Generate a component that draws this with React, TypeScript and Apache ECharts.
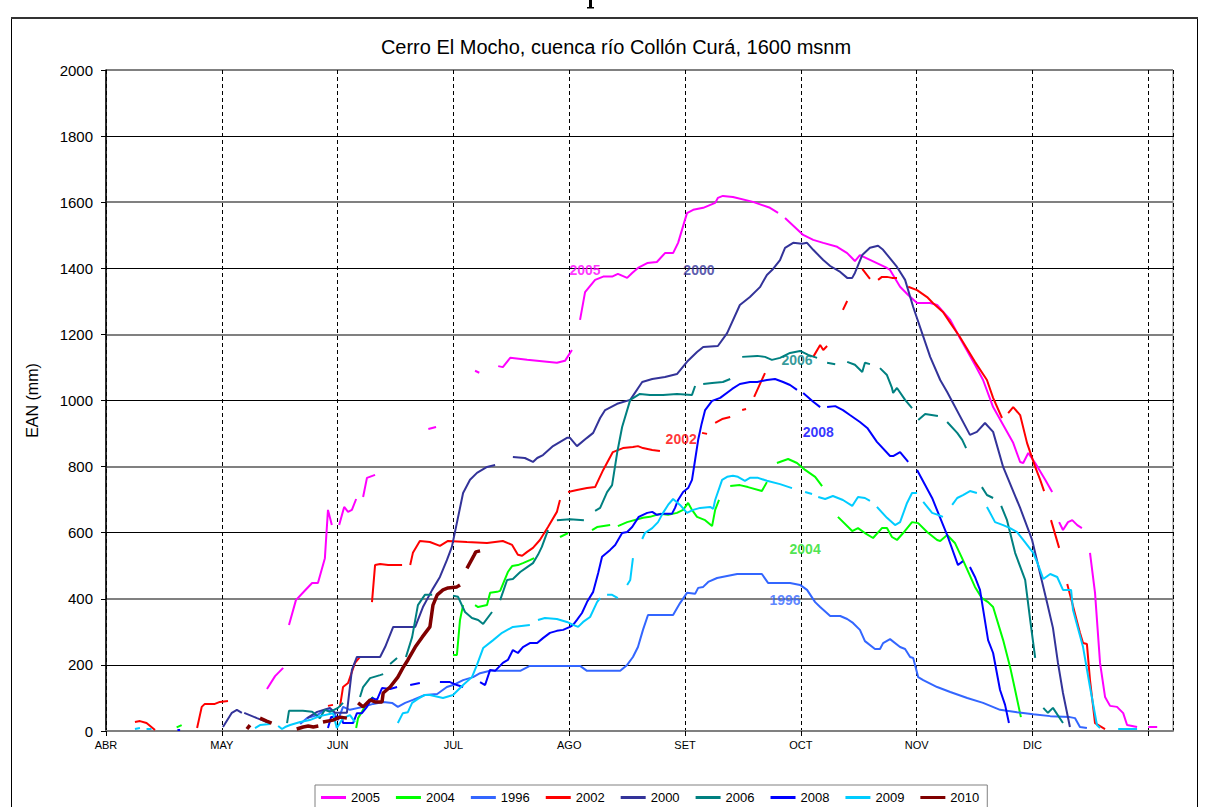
import React, { useEffect, useRef } from "react";
import * as echarts from "echarts";

// x = days since 1 April (30 days per month slot), y = EAN (mm)
const monthLabels = ["ABR", "MAY", "JUN", "JUL", "AGO", "SET", "OCT", "NOV", "DIC", ""];
const yTicks = [0, 200, 400, 600, 800, 1000, 1200, 1400, 1600, 1800, 2000];

type P = [number, number] | null;

const s2005: P[] = [
  [41.7, 127], [43.8, 166], [45.9, 191], null,
  [47.4, 321], [49.2, 396], [51.6, 426], [53.4, 448], [54.9, 448], [56.7, 523], [57.5, 669], [58.5, 623], null,
  [60.4, 623], [61.7, 678], [62.7, 663], [63.7, 669], [64.8, 702], null,
  [66.6, 708], [67.6, 766], [69.7, 775], null,
  [83.5, 914], [85.5, 920], null,
  [95.6, 1090], [96.7, 1084], null,
  [101.6, 1104], [102.8, 1101], [104.7, 1129], [109.1, 1123], [114.2, 1117], [116.8, 1114], [118.9, 1120], [120.7, 1153], null,
  [122.8, 1244], [124.1, 1328], [126.7, 1365], [128.8, 1375], [131.1, 1375], [132.6, 1383], [135.0, 1371], [136.3, 1386],
  [137.8, 1401], [140.2, 1416], [142.7, 1419], [144.8, 1446], [146.9, 1446], [148.2, 1477], [150.5, 1567], [152.1, 1577],
  [154.7, 1583], [157.8, 1598], [158.5, 1613], [159.8, 1619], [162.4, 1616], [167.6, 1601], [172.0, 1583], [174.1, 1568], null,
  [175.9, 1552], [180.6, 1501], [183.2, 1486], [185.8, 1477], [189.4, 1465], [192.0, 1446], [194.0, 1422], [195.3, 1440],
  [202.3, 1401], [203.1, 1395], [205.7, 1344], [207.8, 1319], [210.1, 1295], [213.5, 1295], [215.3, 1289], [218.7, 1244],
  [221.2, 1189], [225.1, 1108], [227.2, 1062], [229.8, 980], [235.0, 872], [236.8, 814], [237.6, 811], [238.9, 841],
  [240.7, 811], [243.3, 760], [245.1, 723], null,
  [246.9, 632], [247.9, 608], [249.2, 632], [250.3, 638], [251.6, 623], [252.8, 614], null,
  [254.9, 539], [256.2, 418], [257.5, 206], [258.8, 103], [260.1, 76], [261.9, 73], [263.5, 54], [264.5, 18], [267.1, 12], null,
  [270.0, 12], [272.3, 12],
];

const s2004: P[] = [
  [18.3, 11], [19.6, 18], null,
  [64.8, 9], [65.3, 39], [66.3, 58], [67.6, 85], [69.2, 103], null,
  [89.9, 230], [90.9, 230], [91.7, 336], [92.5, 381], null,
  [95.6, 381], [96.4, 375], [98.7, 381], [99.5, 418], [101.3, 421], [102.1, 424], [104.1, 481], [105.2, 499],
  [106.7, 502], [108.0, 508], [109.8, 517], [110.9, 523], null,
  [117.6, 587], [119.7, 599], null,
  [125.9, 608], [127.2, 617], [130.6, 623], null,
  [132.6, 620], [135.0, 632], [139.1, 645], [140.9, 648], [143.5, 657], [145.6, 654], [147.9, 660], [149.5, 669],
  [150.8, 690], [151.8, 669], [153.1, 648], [155.2, 638], [157.0, 620], [157.8, 669], [158.8, 699], null,
  [161.7, 741], [164.2, 744], [166.3, 738], [169.9, 726], [171.2, 753], null,
  [173.8, 811], [176.7, 823], [179.0, 811], [181.1, 790], [183.7, 769], [185.5, 741], null,
  [189.6, 648], [193.3, 605], [194.8, 614], [196.6, 599], [198.7, 584], [201.0, 614], [202.3, 614], [203.6, 587],
  [204.9, 578], [206.5, 599], [208.8, 632], [210.4, 629], [212.7, 602], [215.3, 578], [216.1, 575], [217.9, 593],
  [219.9, 569], [222.0, 517], [225.1, 436], [226.9, 402], [228.5, 390], [229.8, 375], [232.4, 275], [234.2, 194],
  [235.5, 124], [237.0, 42],
];

const s1996: P[] = [
  [50.3, 21], [52.1, 39], [54.7, 48], [56.7, 64], [58.8, 61], [60.1, 33], [61.4, 73], [63.2, 64], [66.6, 73],
  [69.2, 82], [71.8, 88], [74.1, 85], [75.6, 73], [77.5, 85], [79.5, 94], [82.6, 109], [85.8, 112], [88.3, 133],
  [89.9, 139], [92.5, 154], [95.1, 163], [96.9, 175], [99.5, 182], [107.3, 182], [109.8, 197], [122.8, 197],
  [124.6, 182], [133.2, 182], [135.0, 200], [136.5, 224], [137.8, 254], [139.1, 306], [140.4, 351], [146.9, 351],
  [148.7, 387], [150.5, 418], [152.6, 415], [153.4, 433], [154.7, 436], [156.0, 451], [158.3, 463], [160.9, 469],
  [163.5, 475], [166.1, 475], [169.9, 475], [171.5, 448], [173.8, 448], [177.2, 448], [179.8, 442], [181.6, 427],
  [183.7, 390], [185.0, 375], [187.6, 348], [190.2, 348], [192.0, 339], [193.5, 327], [195.3, 306], [196.6, 272],
  [199.2, 248], [200.5, 248], [201.3, 266], [203.1, 278], [205.7, 254], [207.0, 248], [208.3, 224], [209.1, 221],
  [210.4, 163], [211.7, 154], [215.3, 133], [218.7, 118], [223.1, 100], [227.2, 85], [231.6, 64], [236.0, 57],
  [240.2, 51], [244.6, 45], [249.7, 42], [251.0, 39], [252.3, 12], [254.1, 9],
];

const s2002: P[] = [
  [7.5, 27], [8.8, 30], [10.5, 24], [12.7, 3], null,
  [23.6, 9], [24.8, 73], [25.6, 82], [28.2, 82], [29.5, 88], [31.6, 91], null,
  [57.5, 76], [58.8, 79], null,
  [60.6, 73], [61.4, 133], [62.7, 145], [64.5, 206], [65.8, 224], null,
  [68.9, 390], [69.7, 502], [71.0, 505], [73.1, 502], [76.7, 502], null,
  [78.8, 502], [79.5, 539], [81.3, 575], [83.9, 572], [86.5, 560], [88.6, 575], [93.5, 572], [98.7, 569],
  [102.8, 575], [105.2, 563], [106.7, 533], [107.8, 530], [109.1, 542], [110.6, 554], [112.4, 578], [114.5, 617],
  [116.8, 663], [117.6, 699], null,
  [119.7, 723], [122.0, 729], [124.6, 735], [126.7, 738], [128.8, 790], [131.3, 844], [133.9, 856], [136.5, 859],
  [137.8, 862], [139.1, 856], [141.5, 850], [143.5, 847], null,
  [154.4, 902], [155.7, 899], null,
  [157.8, 932], [159.6, 944], [161.7, 950], null,
  [164.8, 971], [165.8, 974], null,
  [167.9, 1011], [170.7, 1083], null,
  [183.2, 1132], [185.0, 1168], [185.8, 1153], [186.8, 1165], null,
  [190.9, 1274], [192.0, 1301], null,
  [195.9, 1398], [197.9, 1368], null,
  [200.0, 1365], [201.0, 1374], [202.3, 1374], [203.6, 1371], [204.9, 1371], null,
  [207.8, 1344], [210.1, 1334], [212.7, 1313], [214.2, 1295], [216.8, 1268], [218.7, 1235], [221.2, 1192],
  [225.1, 1117], [228.2, 1062], [229.8, 1008], [232.1, 947], null,
  [233.7, 962], [235.0, 980], [236.8, 956], [238.6, 871], [240.7, 799], [242.0, 760], [243.0, 726], null,
  [244.8, 638], [246.9, 554], null,
  [249.0, 445], [252.3, 297], [253.1, 266], [254.1, 263], [254.9, 154], [256.2, 24], [258.8, 6],
];

const s2000: P[] = [
  [30.3, 12], [32.6, 55], [33.9, 64], [35.2, 55], null,
  [35.8, 55], [39.1, 39], [41.7, 27], null,
  [52.1, 39], [54.7, 58], [58.0, 70], [59.3, 55], [62.4, 55], [63.7, 185], [65.0, 224], [68.9, 224], [71.0, 224],
  [72.3, 254], [74.4, 315], [80.1, 315], [82.1, 375], [84.5, 427], [86.5, 466], [88.3, 517], [89.6, 557],
  [92.5, 720], [94.3, 760], [96.1, 781], [98.7, 799], [100.8, 805], null,
  [105.4, 829], [108.5, 826], [110.6, 814], [111.7, 826], [113.2, 835], [115.8, 862], [119.4, 887], [120.2, 887],
  [122.0, 862], [124.6, 887], [126.2, 902], [128.0, 947], [129.3, 971], [132.4, 990], [135.8, 1002], [138.9, 1056],
  [141.5, 1065], [144.8, 1071], [147.9, 1080], [150.5, 1117], [153.1, 1147], [154.7, 1162], [158.5, 1165],
  [160.9, 1204], [164.2, 1289], [166.8, 1313], [169.4, 1343], [171.2, 1380], [172.8, 1398], [174.6, 1425],
  [175.9, 1462], [178.0, 1477], [180.3, 1474], [181.6, 1477], [183.2, 1456], [185.8, 1425], [187.6, 1407],
  [190.2, 1389], [192.0, 1371], [193.3, 1371], [194.0, 1386], [195.9, 1440], [197.9, 1462], [200.0, 1468],
  [201.3, 1456], [204.9, 1404], [207.0, 1365], [209.1, 1283], [213.5, 1132], [216.1, 1062], [217.9, 1026],
  [223.8, 896], [225.6, 905], [227.7, 932], [229.8, 905], [232.4, 799], [236.8, 675], [239.9, 578], [243.8, 387],
  [245.3, 312], [246.6, 206], [247.9, 115], [249.7, 12],
];

const s2006: P[] = [
  [46.9, 24], [47.4, 61], [51.0, 61], [53.4, 58], [55.4, 39], [56.7, 64], [58.0, 58], [60.1, 70], [61.4, 85], null,
  [65.8, 103], [66.6, 133], [68.4, 160], [71.0, 169], [71.8, 172], null,
  [73.6, 203], [75.4, 221], null,
  [77.7, 224], [79.3, 284], [80.8, 381], [82.6, 412], [84.5, 412], null,
  [89.9, 409], [91.2, 406], [93.0, 360], [94.8, 342], [96.4, 336], [97.7, 324], [100.0, 360], null,
  [102.1, 396], [103.9, 457], [105.4, 460], [107.3, 481], [109.1, 496], [110.6, 508], [111.9, 533], [112.9, 557], [114.5, 608], null,
  [116.8, 638], [120.2, 641], [123.8, 638], null,
  [126.7, 666], [128.0, 675], [129.8, 723], [131.1, 744], [132.4, 841], [133.7, 920], [135.8, 1002], [138.3, 1020],
  [140.9, 1017], [144.3, 1017], [147.9, 1020], [151.8, 1017], [152.6, 1044], null,
  [154.7, 1050], [157.0, 1053], [159.8, 1056], [161.7, 1065], null,
  [164.8, 1132], [168.7, 1135], [170.7, 1132], [172.5, 1123], [174.6, 1129], [177.2, 1144], [179.8, 1150], [181.9, 1138], [184.2, 1129], null,
  [186.8, 1114], [188.9, 1110], null,
  [192.0, 1117], [194.0, 1108], [195.9, 1086], [196.6, 1114], [197.9, 1110], null,
  [200.5, 1098], [202.3, 1077], [203.6, 1038], [203.9, 1023], [204.9, 1038], [207.0, 1002], [208.8, 977], null,
  [210.4, 941], [212.2, 959], [215.5, 953], null,
  [217.9, 935], [220.5, 902], [221.8, 881], [222.8, 856], null,
  [226.9, 738], [228.2, 714], [229.8, 705], null,
  [231.9, 681], [233.4, 638], [235.5, 539], [238.1, 457], [239.4, 336], [240.7, 221], null,
  [242.8, 70], [244.0, 55], [245.3, 70], [247.9, 24],
];

const s2008: P[] = [
  [18.5, 3], [19.2, 3], null,
  [57.5, 9], [58.3, 42], [61.1, 42], [61.4, 24], [62.7, 24], [64.0, 24], [65.0, 54], [66.3, 54], [67.6, 73],
  [68.9, 100], [70.2, 94], [71.5, 130], [73.6, 127], [75.4, 133], null,
  [78.8, 139], [81.3, 145], null,
  [86.5, 148], [89.1, 148], [90.9, 139], [92.5, 133], null,
  [96.9, 148], [98.2, 139], [99.5, 185], [100.8, 182], [102.8, 206], [104.1, 215], [105.4, 245], [106.7, 236],
  [108.0, 254], [109.8, 266], [111.7, 266], [113.2, 281], [115.0, 297], [116.8, 303], [118.4, 306], [120.2, 315],
  [121.0, 321], [122.0, 336], [123.3, 357], [124.6, 390], [126.2, 421], [127.5, 478], [128.5, 527], [130.6, 548],
  [131.9, 563], [133.7, 599], [135.0, 602], [136.3, 617], [138.0, 648], [140.2, 660], [141.5, 663], [142.7, 654],
  [144.3, 657], [146.6, 657], [147.4, 675], [148.2, 699], [149.5, 723], [150.8, 735], [151.8, 760], [152.6, 820],
  [153.4, 881], [154.3, 930], [155.2, 971], [157.0, 999], [159.1, 1008], [162.2, 1035], [164.2, 1050], [166.8, 1056],
  [168.7, 1056], [171.2, 1062], [173.3, 1065], [175.4, 1056], [177.2, 1047], [179.0, 1032], null,
  [180.6, 1023], [183.2, 996], [185.0, 980], null,
  [186.8, 980], [188.9, 983], [190.9, 971], [192.7, 956], [195.3, 935], [197.2, 917], [199.7, 875], [203.1, 832],
  [203.9, 832], [205.7, 844], [207.8, 814], null,
  [210.1, 790], [214.0, 705], [217.9, 593], [220.7, 502], [222.0, 514], null,
  [223.8, 496], [225.1, 466], [226.4, 427], [228.5, 275], [229.8, 236], [231.6, 124], [232.9, 79], [233.9, 24],
];

const s2009: P[] = [
  [7.5, 6], [8.8, 9], null,
  [10.5, 6], [11.8, 6], null,
  [38.6, 9], [39.9, 18], [42.5, 21], null,
  [44.6, 15], [45.6, 6], [46.4, 12], [47.7, 18], [50.3, 27], [52.8, 33], [55.4, 45], [58.8, 54], [59.8, 9],
  [61.4, 39], [63.2, 48], [64.5, 27], null,
  [75.6, 24], [76.9, 54], [78.2, 57], [79.3, 85], [80.8, 97], [82.6, 109], [83.9, 109], [87.3, 100], [89.9, 109],
  [92.5, 139], [94.8, 163], [96.1, 200], [97.7, 251], [100.3, 275], [102.6, 297], [105.4, 315], [109.8, 321], null,
  [111.9, 336], [113.7, 342], [116.8, 339], [119.4, 330], [121.0, 321], [122.3, 315], [123.6, 330], [125.4, 345],
  [127.2, 390], [128.0, 402], null,
  [129.8, 412], [131.1, 412], [132.6, 402], null,
  [135.0, 442], [135.8, 457], [136.5, 523], null,
  [138.9, 581], [139.6, 599], [141.5, 614], [143.0, 632], [144.3, 660], [145.6, 684], [146.9, 702], [148.7, 684],
  [150.5, 660], [152.1, 669], [153.9, 675], [156.5, 678], [157.3, 672], [157.8, 699], [159.6, 760], [160.9, 769],
  [162.4, 772], [163.7, 769], [165.5, 757], [166.8, 766], [168.9, 766], [171.2, 757], [174.6, 747], [177.7, 735], null,
  [181.1, 723], [182.9, 717], null,
  [184.5, 708], [186.3, 702], [188.3, 711], [190.9, 699], [193.3, 681], [194.8, 708], [196.6, 705], [197.9, 696], null,
  [199.7, 678], [202.3, 645], [204.4, 623], [205.7, 632], [207.5, 690], [208.8, 720], [210.1, 720], null,
  [211.7, 693], [214.0, 660], [215.5, 654], [216.8, 648], null,
  [219.2, 684], [220.5, 705], [222.0, 714], [223.8, 726], [225.6, 720], null,
  [228.2, 678], [230.3, 632], [232.4, 623], [234.2, 614], [236.0, 602], [237.6, 578], [240.2, 539], [241.5, 502],
  [242.8, 460], [244.6, 475], [246.4, 466], [247.9, 427], [250.0, 427], [250.5, 366], [253.1, 254], [254.9, 133],
  [256.7, 18], [257.5, 9], null,
  [262.2, 6], [267.1, 6],
];

const s2010: P[] = [
  [36.5, 6], [37.3, 18], null,
  [39.9, 39], [41.6, 30], [42.9, 24], null,
  [49.4, 6], [51.1, 12], [52.4, 15], [53.7, 12], [55.0, 15], null,
  [56.2, 27], [58.8, 33], [60.6, 42], [62.4, 39], null,
  [65.3, 85], [66.6, 73], [68.4, 94], [69.7, 88], [71.5, 88], [71.8, 115], [73.6, 133], [75.6, 163], [76.9, 191],
  [78.2, 215], [80.1, 254], [81.9, 284], [83.9, 315], [84.7, 381], [85.8, 412], [87.3, 427], [88.6, 433],
  [90.9, 436], [91.7, 442], null,
  [93.5, 492], [95.4, 533], [95.8, 542], [96.9, 545],
];

const seriesNames = ["2005", "2004", "1996", "2002", "2000", "2006", "2008", "2009", "2010"];
const seriesData = [s2005, s2004, s1996, s2002, s2000, s2006, s2008, s2009, s2010];
const seriesColors = ["#FF00FF", "#00FF00", "#3366FF", "#FF0000", "#333399", "#008080", "#0000FF", "#00CCFF", "#800000"];
const seriesWidths = [2, 2, 2, 2, 2, 2, 2, 2, 3.5];

// in-chart year labels
const labelNames = ["2005", "2000", "2006", "2002", "2008", "2004", "1996"];
const labelX = [124.1, 153.6, 179.0, 149.0, 184.5, 181.1, 175.9];
const labelY = [1395, 1395, 1123, 884, 905, 551, 396];
const labelColors = ["#FF00FF", "#333399", "#008080", "#FF0000", "#0000FF", "#22DD22", "#3366FF"];

export default function App() {
  const ref = useRef<HTMLDivElement>(null);
  useEffect(() => {
    if (!ref.current) return;
    const chart = echarts.init(ref.current, undefined, { renderer: "svg" });
    const font = "Liberation Sans, Arial, sans-serif";
    const lines = seriesNames.map((name, i) => ({
      name,
      type: "line",
      data: seriesData[i].map((p) => (p ? p : ["-", "-"])),
      showSymbol: false,
      symbol: "none",
      connectNulls: false,
      lineStyle: { color: seriesColors[i], width: seriesWidths[i] },
      itemStyle: { color: seriesColors[i] },
      z: 3,
    }));
    const labelSeries = {
      name: "labels",
      type: "scatter",
      silent: true,
      symbolSize: 0,
      z: 5,
      data: labelNames.map((n, i) => ({
        name: n,
        value: [labelX[i], labelY[i]],
        label: { color: labelColors[i] },
      })),
      label: {
        show: true,
        position: "inside",
        formatter: "{b}",
        fontFamily: font,
        fontWeight: "bold",
        fontSize: 14,
      },
    };
    chart.setOption({
      animation: false,
      backgroundColor: "#fff",
      title: {
        text: "Cerro El Mocho, cuenca río Collón Curá, 1600 msnm",
        left: 611,
        top: 32,
        textAlign: "center",
        textStyle: { fontFamily: font, fontSize: 20, fontWeight: "normal", color: "#000" },
      },
      legend: {
        data: seriesNames.map((n) => ({ name: n, icon: "rect" })),
        left: 315,
        top: 785,
        orient: "horizontal",
        itemWidth: 25,
        itemHeight: 3,
        itemGap: 16,
        padding: [6, 8, 9, 6],
        borderColor: "#808080",
        borderWidth: 1,
        backgroundColor: "#fff",
        textStyle: { fontFamily: font, fontSize: 13, color: "#000" },
      },
      grid: {
        left: 106,
        right: 32,
        top: 70,
        bottom: 76,
        show: true,
        borderColor: "#808080",
        borderWidth: 1,
      },
      xAxis: {
        type: "value",
        min: 0,
        max: 276.4,
        interval: 30,
        axisLine: { show: true, lineStyle: { color: "#808080", width: 2 } },
        axisTick: { show: true, length: 5, lineStyle: { color: "#000" } },
        axisLabel: {
          fontFamily: font,
          fontSize: 11,
          color: "#000",
          margin: 8,
          showMaxLabel: false,
          formatter: (v: number) => {
            const k = Math.round(v / 30);
            return Math.abs(v - k * 30) < 1e-6 ? monthLabels[k] || "" : "";
          },
        },
        splitLine: { show: true, lineStyle: { color: "#000", width: 1, type: [4, 3] } },
      },
      yAxis: [
        {
          type: "value",
          min: yTicks[0],
          max: yTicks[yTicks.length - 1],
          interval: 200,
          name: "EAN (mm)",
          nameLocation: "middle",
          nameGap: 66,
          nameTextStyle: { fontFamily: font, fontSize: 16, color: "#000" },
          axisLine: { show: true, lineStyle: { color: "#000", width: 1.5 } },
          axisTick: { show: true, inside: false, length: 5, lineStyle: { color: "#000" } },
          axisLabel: {
            fontFamily: font,
            fontSize: 15,
            color: "#000",
            margin: 13,
            formatter: (v: number) => String(v),
          },
          splitLine: { show: true, lineStyle: { color: "#000", width: 1 } },
        },
        {
          type: "value",
          min: 0,
          max: 2000,
          interval: 400,
          position: "left",
          axisLine: { show: false },
          axisTick: { show: false },
          axisLabel: { show: false },
          splitLine: { show: true, lineStyle: { color: "#808080", width: 2 } },
        },
      ],
      graphic: [
        {
          type: "rect",
          shape: { x: 11.5, y: 18.5, width: 1186, height: 800 },
          style: { fill: "none", stroke: "#000", lineWidth: 1 },
          silent: true,
          z: 0,
        },
        {
          type: "line",
          shape: { x1: 11, y1: 18, x2: 1198, y2: 18 },
          style: { stroke: "#333", lineWidth: 2 },
          silent: true,
        },
        // fragment of a cut-off caption glyph above the frame
        {
          type: "rect",
          shape: { x: 589, y: 0, width: 3, height: 8 },
          style: { fill: "#000" },
          silent: true,
        },
        {
          type: "rect",
          shape: { x: 587, y: 7, width: 7, height: 1.5 },
          style: { fill: "#000" },
          silent: true,
        },
      ],
      series: [...lines, labelSeries],
    });
    return () => chart.dispose();
  }, []);
  return (
    <div
      ref={ref}
      style={{ position: "fixed", left: 0, top: 0, width: 1205, height: 807 }}
    />
  );
}
